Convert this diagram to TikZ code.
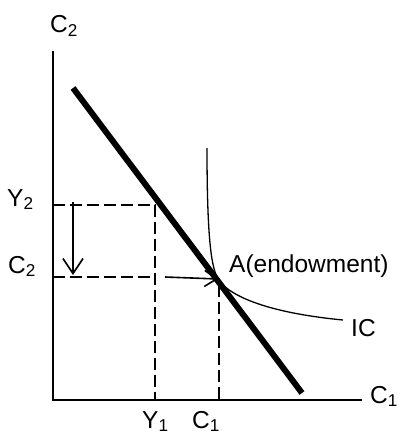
\documentclass[tikz,border=0pt]{standalone}
\usepackage{fontspec}
\setmainfont{Liberation Sans}
\usetikzlibrary{arrows.meta}
\begin{document}
\begin{tikzpicture}[x=1pt,y=-1pt,
  lbl/.style={font=\fontsize{24.5}{26}\selectfont, inner sep=0pt},
  axis/.style={line width=2pt},
  budget/.style={line width=6pt},
  guide/.style={line width=1.8pt, dash pattern=on 12pt off 5pt},
  shiftarrow/.style={line width=1.6pt, -{Straight Barb[length=15pt,width=20pt,line width=1.6pt]}},
  icurve/.style={line width=1.3pt}]
\useasboundingbox (0,0) rectangle (402,436);
% axes
\coordinate (O) at (53,400);
\coordinate (ytop) at (53,51);
\coordinate (xend) at (362,400);
\draw[axis] (ytop) -- (O) -- (xend);
% budget line
\coordinate (b1) at (73,88);
\coordinate (b2) at (302,393);
\draw[budget] (b1) -- (b2);
% guide points
\coordinate (Y2a) at (53,205);
\coordinate (Y2b) at (155,205);
\coordinate (Y1) at (155,400);
\coordinate (C2a) at (53,277);
\coordinate (C2b) at (155,277);
\coordinate (A) at (218,279);
\coordinate (C1top) at (219,285);
\coordinate (C1) at (219,400);
\draw[guide] (Y2a) -- (Y2b) -- (Y1);
\draw[guide] (C2a) -- (C2b);
\draw[guide] (C1top) -- (C1);
% indifference curve
\coordinate (ic1) at (207,148);
\coordinate (ic2) at (343,320);
\draw[icurve] (ic1) .. controls (207,245) and (212,268) .. (A)
  .. controls (232,300) and (280,314) .. (ic2);
% shift arrows
\coordinate (va1) at (73,202);
\coordinate (va2) at (73,275);
\draw[shiftarrow] (va1) -- (va2);
\coordinate (ha1) at (165,277);
\draw[shiftarrow, -{Straight Barb[length=12pt,width=16pt,line width=1.6pt]}] (ha1) -- (A);
% labels
\node[lbl, anchor=base west] (lC2top) at (50,33) {C\textsubscript{2}};
\node[lbl, anchor=base west] (lY2) at (7,206) {Y\textsubscript{2}};
\node[lbl, anchor=base west] (lC2) at (8,273) {C\textsubscript{2}};
\node[lbl, anchor=base west] (lA) at (229,272) {A(endowment)};
\node[lbl, anchor=base west] (lIC) at (351,336) {IC};
\node[lbl, anchor=base west] (lC1r) at (370,403) {C\textsubscript{1}};
\node[lbl, anchor=base west] (lY1) at (142,428) {Y\textsubscript{1}};
\node[lbl, anchor=base west] (lC1) at (192,428) {C\textsubscript{1}};
\end{tikzpicture}
\end{document}
